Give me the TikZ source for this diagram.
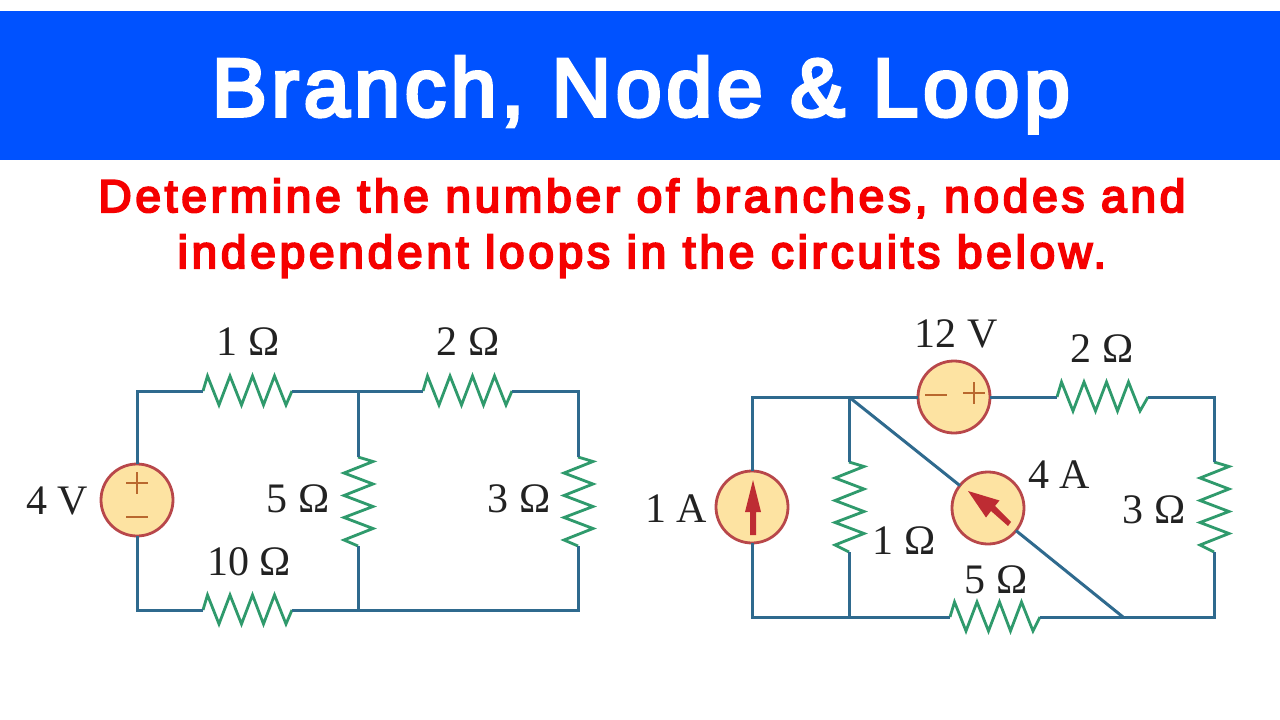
\documentclass[tikz,border=0pt]{standalone}
\usepackage{fontspec}
\setmainfont{Liberation Serif}
\newfontfamily\titlefont[FakeBold=4.5,LetterSpace=6]{Liberation Sans}
\newfontfamily\subfont[FakeBold=4.5,LetterSpace=8.2]{Liberation Sans}
\definecolor{bandblue}{HTML}{0052FF}
\definecolor{wireblue}{HTML}{2F6A8E}
\definecolor{resgreen}{HTML}{2F9A6C}
\definecolor{srcfill}{HTML}{FDE3A2}
\definecolor{srcedge}{HTML}{B8474A}
\definecolor{arrowred}{HTML}{BE2C33}
\definecolor{signbrown}{HTML}{B9682E}
\definecolor{labeltext}{HTML}{222222}
\definecolor{subred}{HTML}{F50000}
\tikzset{
  wire/.style={draw=wireblue,line width=3pt,line join=miter},
  zig/.style={draw=resgreen,line width=2.8pt,line join=miter},
  src/.style={circle,draw=srcedge,fill=srcfill,line width=2.8pt,minimum size=72pt,inner sep=0pt,outer sep=0pt},
  lab/.style={anchor=base,inner sep=0pt,text=labeltext,font=\fontsize{42}{42}\selectfont},
  sign/.style={draw=signbrown,line width=1.6pt},
  head/.style={anchor=base,inner sep=0pt,text=white,font=\titlefont\fontsize{82}{82}\selectfont},
  sub/.style={anchor=base,inner sep=0pt,text=subred,font=\subfont\fontsize{46}{46}\selectfont},
}
% horizontal resistor: name, x start, y, length
\newcommand{\hresistor}[4]{%
  \coordinate (#1a) at (#2,#3);
  \coordinate (#1b) at (#2+#4,#3);
  \draw[zig] (#1a) -- ++(4.5,-15) -- ++(11.5,29) -- ++(11,-29) -- ++(11.5,29) -- ++(11,-29) -- ++(11,29) -- ++(11,-29) -- ++(11.5,29) -- (#1b);
}
% vertical resistor: name, x, y start, length
\newcommand{\vresistor}[4]{%
  \coordinate (#1a) at (#2,#3);
  \coordinate (#1b) at (#2,#3+#4);
  \draw[zig] (#1a) -- ++(15,4.5) -- ++(-29,11.5) -- ++(29,11) -- ++(-29,11.5) -- ++(29,11) -- ++(-29,11) -- ++(29,11) -- ++(-29,11.5) -- (#1b);
}
\begin{document}
\begin{tikzpicture}[x=1pt,y=-1pt]
\useasboundingbox (0,0) rectangle (1280,720);
\fill[white] (0,0) rectangle (1280,720);
\fill[bandblue] (0,11) rectangle (1280,160);
\node[head] (title) at (641,116) {Branch, Node \& Loop};
\node[sub] (sub1) at (642,212) {Determine the number of branches, nodes and};
\node[sub] (sub2) at (642,268) {independent loops in the circuits below.};

% left circuit
\coordinate (ltl) at (137,391);
\coordinate (lbl) at (137,610);
\coordinate (ltm) at (358,391);
\coordinate (lbm) at (358,610);
\coordinate (ltr) at (578,391);
\coordinate (lbr) at (578,610);
\hresistor{ra}{203}{391}{89}
\hresistor{rb}{423}{391}{89}
\hresistor{rc}{203}{610}{89}
\vresistor{rd}{358}{457}{89}
\vresistor{re}{578}{457}{89}
\node[src] (vfour) at (137,500) {};
\draw[wire] (vfour) -- (ltl) -- (raa);
\draw[wire] (rab) -- (ltm) -- (rba);
\draw[wire] (rbb) -- (ltr) -- (rea);
\draw[wire] (reb) -- (lbr) -- (lbm) -- (rcb);
\draw[wire] (rca) -- (lbl) -- (vfour);
\draw[wire] (ltm) -- (rda);
\draw[wire] (rdb) -- (lbm);
\draw[sign] (126,483) -- (148,483) (137,472) -- (137,494);
\draw[sign] (126,517) -- (148,517);

% right circuit
\coordinate (rtl) at (752,397);
\coordinate (rbl) at (752,617);
\coordinate (rtm) at (849,397);
\coordinate (rbm) at (849,617);
\coordinate (rtr) at (1214,397);
\coordinate (rbr) at (1214,617);
\coordinate (rdg) at (1123,617);
\hresistor{sa}{1057}{397}{91}
\hresistor{sb}{950}{617}{90}
\vresistor{sc}{849}{462}{90}
\vresistor{sd}{1214}{462}{90}
\node[src] (aone) at (752,507) {};
\node[src] (vtwelve) at (954,397) {};
\node[src] (afour) at (988,508) {};
\draw[wire] (aone) -- (rtl) -- (rtm) -- (vtwelve);
\draw[wire] (vtwelve) -- (saa);
\draw[wire] (sab) -- (rtr) -- (sda);
\draw[wire] (sdb) -- (rbr) -- (sbb);
\draw[wire] (sba) -- (rbm) -- (rbl) -- (aone);
\draw[wire] (rtm) -- (sca);
\draw[wire] (scb) -- (rbm);
\draw[wire] (rtm) -- (afour);
\draw[wire] (afour) -- (rdg);
\draw[sign] (925,395) -- (947,395);
\draw[sign] (963,393) -- (985,393) (974,382) -- (974,404);
% current arrows
\fill[arrowred] (753,480) -- (761,512) -- (756,512) -- (756,535) -- (750,535) -- (750,512) -- (745,512) -- cycle;
\fill[arrowred] (968,491) -- (999.5,500.5) -- (995,506) -- (1011,522) -- (1008,526) -- (991,511) -- (986,517.5) -- cycle;

% labels
\node[lab] (l1) at (248,355) {1 Ω};
\node[lab] (l2) at (468,355) {2 Ω};
\node[lab] (l3) at (57,514) {4 V};
\node[lab] (l4) at (298,512) {5 Ω};
\node[lab] (l5) at (249,575) {10 Ω};
\node[lab] (l6) at (519,512) {3 Ω};
\node[lab] (r1) at (676,522) {1 A};
\node[lab] (r2) at (904,554) {1 Ω};
\node[lab] (r3) at (956,347) {12 V};
\node[lab] (r4) at (1102,362) {2 Ω};
\node[lab] (r5) at (1059,488) {4 A};
\node[lab] (r6) at (1154,523) {3 Ω};
\node[lab] (r7) at (996,593) {5 Ω};
\end{tikzpicture}
\end{document}
